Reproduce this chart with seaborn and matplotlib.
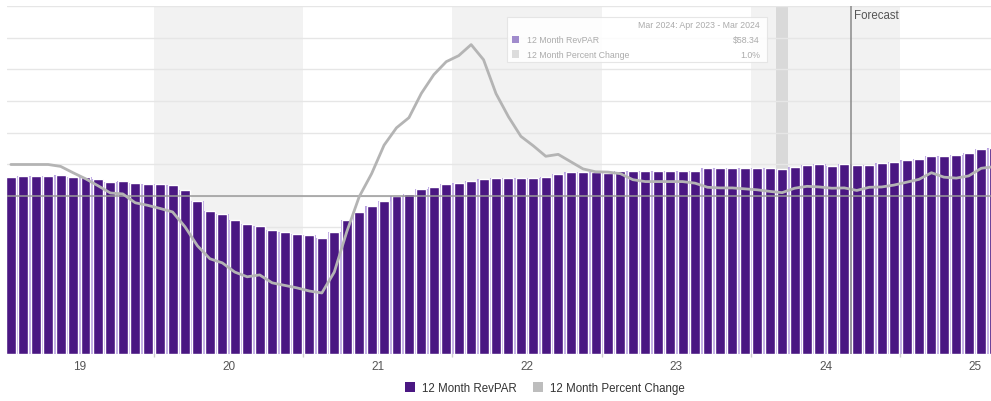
import matplotlib
matplotlib.use("Agg")
import numpy as np
import pandas as pd
import seaborn as sns
import matplotlib.pyplot as plt
from matplotlib.patches import Patch, Rectangle

# ---------------- data ----------------
years = ["19", "20", "21", "22", "23", "24", "25"]
months = pd.date_range("2019-01-01", periods=80, freq="MS")

revpar = [55.9, 56.2, 56.4, 56.4, 56.6, 55.9, 55.9, 55.4, 54.3, 54.8, 54.0, 53.8,
          53.8, 53.5, 51.7, 48.3, 45.3, 44.1, 42.4, 41.1, 40.6, 39.3, 38.7, 37.9,
          37.7, 36.8, 38.7, 42.2, 45.0, 46.7, 48.5, 49.8, 50.6, 52.0, 52.9, 53.8,
          54.1, 54.6, 55.4, 55.6, 55.6, 55.6, 55.6, 55.9, 57.0, 57.5, 57.5, 57.5,
          57.2, 58.0, 58.0, 58.0, 58.0, 58.0, 58.0, 58.0, 58.9, 58.8, 58.8, 58.8,
          58.8, 58.8, 58.34, 59.1, 59.6, 59.9, 59.4, 59.9, 59.8, 59.8, 60.3, 60.7,
          61.2, 61.7, 62.6, 62.6, 62.8, 63.6, 64.7, 65.2]

pct_change = [9.9, 9.9, 9.9, 9.9, 9.3, 7.3, 5.4, 3.2, 0.9, 0.6, -2.2, -3.0,
              -4.0, -5.1, -9.8, -15.8, -19.9, -21.2, -24.1, -25.6, -25.0, -27.5, -28.3, -29.1,
              -30.1, -30.7, -24.1, -11.4, -0.3, 7.0, 16.0, 21.5, 24.7, 32.4, 38.3, 42.4,
              44.3, 47.8, 43.0, 32.3, 25.0, 18.8, 15.8, 12.5, 13.1, 10.8, 8.5, 7.6,
              7.5, 7.0, 5.1, 4.5, 4.5, 4.5, 4.5, 4.0, 2.7, 2.5, 2.5, 2.2,
              1.9, 1.4, 1.0, 2.4, 3.0, 2.8, 2.4, 2.5, 1.7, 2.7, 2.8, 3.4,
              4.3, 5.2, 7.3, 5.9, 5.6, 6.3, 8.7, 9.2]

hover_month = "2024-03"
hover_header = "Mar 2024: Apr 2023 - Mar 2024"
hover_revpar = "$58.34"
hover_pct = "1.0%"
forecast_start = "2024-09"
series_names = ["12 Month RevPAR", "12 Month Percent Change"]

df = pd.DataFrame({"idx": np.arange(len(months)), "month": months,
                   "revpar": revpar, "pct": pct_change})

# ---------------- style ----------------
PURPLE = "#4a1782"
LILAC = "#b7a0e0"
LINE = "#b4b4b4"
W, H = 991, 402

sns.set_theme(style="white")
plt.rcParams["font.family"] = ["Liberation Sans", "DejaVu Sans"]

fig = plt.figure(figsize=(W / 100, H / 100), dpi=100)
ax = fig.add_axes([7 / W, 47 / H, 984 / W, 348 / H])

# alternating year shading and hover column
for k in range(1, len(years), 2):
    ax.axvspan(12 * k - 0.5, 12 * k + 11.5, color="#f2f2f2", zorder=0.2, lw=0)
h_i = int(df.index[df["month"].dt.strftime("%Y-%m") == hover_month][0])
ax.axvspan(h_i - 0.5, h_i + 0.5, color="#d9d9d9", zorder=0.3, lw=0)

# bars: lilac underlay gives the light separators between purple bars
sns.barplot(data=df, x="idx", y="revpar", color=PURPLE, width=0.8,
            saturation=1, ax=ax, zorder=2)
ax.bar(df["idx"], df["revpar"], width=1.0, color=LILAC, lw=0, zorder=1)

ax.set_ylim(0, 110)
ax.set_yticks(np.arange(0, 111, 10))
ax.yaxis.grid(True, color="#e6e6e6", lw=1)
ax.set_axisbelow(True)
ax.tick_params(axis="y", length=0, labelleft=False)
for s in ax.spines.values():
    s.set_visible(False)
ax.set_xlabel("")
ax.set_ylabel("")

# secondary axis: percent change
ax2 = ax.twinx()
sns.lineplot(data=df, x="idx", y="pct", color=LINE, lw=2, ax=ax2, zorder=3)
ax2.set_ylim(-50, 60)
ax2.axhline(0, color="#9a9a9a", lw=1.1, zorder=2.5)
f_i = int(df.index[df["month"].dt.strftime("%Y-%m") == forecast_start][0])
ax2.axvline(f_i - 0.5, color="#8a8a8a", lw=1.1, zorder=4)
ax2.tick_params(axis="y", length=0, labelright=False)
ax2.set_ylabel("")
for s in ax2.spines.values():
    s.set_visible(False)

xl = (-0.31, 78.79)
ax.set_xlim(*xl)
ax2.set_xlim(*xl)

ax.set_xticks([12 * k + 5.5 for k in range(len(years))])
ax.set_xticklabels(years)
ax.set_xticks([12 * k - 0.5 for k in range(1, len(years))], minor=True)
ax.tick_params(axis="x", which="major", length=0, labelsize=8.5,
               labelcolor="#555555", pad=4)
ax.tick_params(axis="x", which="minor", length=5, width=1,
               color="#cfcfcf", direction="inout", bottom=True)

# forecast label
fig.text(854 / W, 1 - 16 / H, "Forecast", fontsize=8.3, color="#555555",
         ha="left", va="center")

# tooltip
fig.add_artist(Rectangle((506.7 / W, 1 - 63.3 / H), 260 / W, 45 / H,
                         transform=fig.transFigure, facecolor="white",
                         edgecolor="#e2e2e2", lw=0.8, alpha=0.85, zorder=10))
tcol = "#ababab"
fig.text(760 / W, 1 - 26 / H, hover_header, fontsize=6.3, color=tcol,
         ha="right", va="center", zorder=11)
for yy, col, lab, val in [(40.7, "#a08bcc", series_names[0], hover_revpar),
                          (55.0, "#dcdcdc", series_names[1], hover_pct)]:
    fig.add_artist(Rectangle((511.7 / W, 1 - (yy + 3.7) / H), 7.3 / W, 7.3 / H,
                             transform=fig.transFigure, facecolor=col,
                             edgecolor="none", zorder=11))
    fig.text(526.7 / W, 1 - yy / H, lab, fontsize=6.3, color=tcol,
             ha="left", va="center", zorder=11)
    fig.text(760 / W, 1 - yy / H, val, fontsize=6.3, color=tcol,
             ha="right", va="center", zorder=11)

# legend
handles = [Patch(facecolor=PURPLE, edgecolor="none"),
           Patch(facecolor="#bdbdbd", edgecolor="none")]
fig.legend(handles, series_names, loc="center",
           bbox_to_anchor=(545 / W, 1 - 389 / H), ncol=2, frameon=False,
           fontsize=8.3, handlelength=0.9, handleheight=0.9,
           handletextpad=0.6, columnspacing=1.4, labelcolor="#333333")

fig.savefig("out.png", dpi=100)
